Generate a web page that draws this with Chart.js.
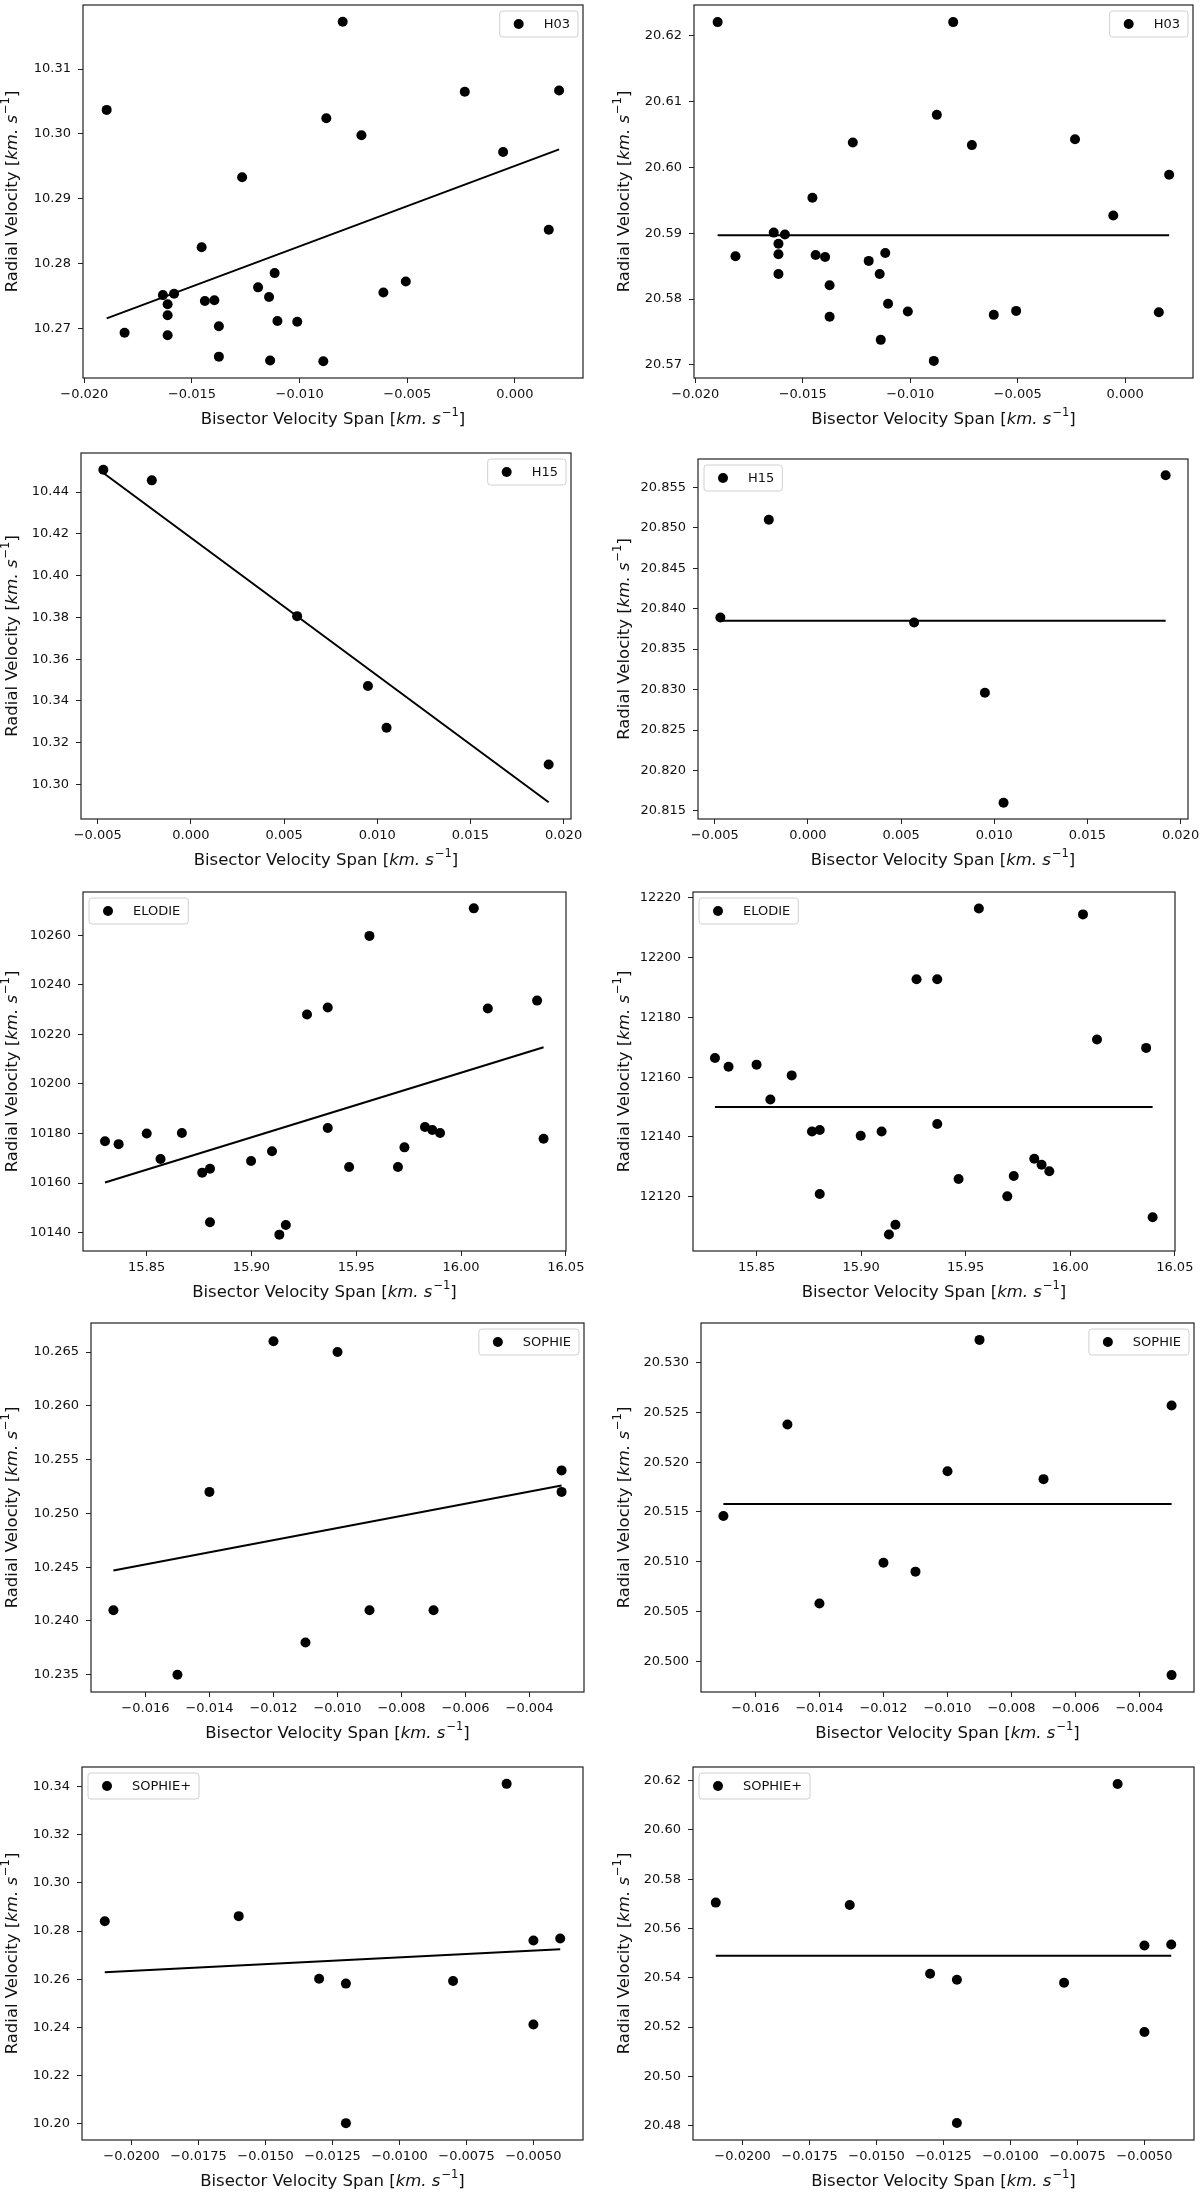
<!DOCTYPE html>
<html><head><meta charset="utf-8">
<script src="https://cdn.jsdelivr.net/npm/chart.js@4.4.1/dist/chart.umd.min.js"></script>
<style>
html,body{margin:0;padding:0;background:#fff;}
body{position:relative;width:1200px;height:2194px;overflow:hidden;}
canvas{position:absolute;}
</style></head><body>
<script>
// ---------------- DATA ----------------
// H03
const h03_bvs = [-0.01896,-0.01813,-0.01635,-0.01613,-0.01613,-0.01613,-0.01583,-0.01455,-0.01440,-0.01396,-0.01375,-0.01375,-0.01267,-0.01193,-0.01142,-0.01137,-0.01116,-0.01103,-0.01011,-0.00890,-0.00876,-0.00800,-0.00713,-0.00611,-0.00507,-0.00233,-0.00055,0.00157,0.00205];
const h03_rv_a = [10.3037,10.2693,10.2751,10.2737,10.2720,10.2689,10.2753,10.2825,10.2742,10.2743,10.2703,10.2656,10.2933,10.2763,10.2748,10.2650,10.2785,10.2711,10.2710,10.2649,10.3024,10.3173,10.2998,10.2755,10.2772,10.3065,10.2972,10.2852,10.3067];
const h03_rv_b = [20.6221,20.5865,20.5901,20.5884,20.5868,20.5838,20.5898,20.5954,20.5867,20.5864,20.5821,20.5773,20.6038,20.5858,20.5838,20.5738,20.5870,20.5793,20.5781,20.5706,20.6080,20.6221,20.6034,20.5776,20.5782,20.6043,20.5927,20.5780,20.5989];
const h03_fit_x = [-0.01896, 0.00205];
const h03_fit_a = [10.2715, 10.2976];
const h03_fit_b = [20.5897, 20.5897];
// H15
const h15_bvs = [-0.0047,-0.0021,0.0057,0.0095,0.0105,0.0192];
const h15_rv_a = [10.4507,10.4456,10.3806,10.3472,10.3272,10.3096];
const h15_rv_b = [20.8389,20.8510,20.8383,20.8296,20.8160,20.8565];
const h15_fit_x = [-0.0047, 0.0192];
const h15_fit_a = [10.4491, 10.2915];
const h15_fit_b = [20.8385, 20.8385];
// ELODIE
const elodie_bvs = [15.8301,15.8366,15.8500,15.8566,15.8668,15.8765,15.8802,15.8802,15.8998,15.9098,15.9133,15.9164,15.9265,15.9364,15.9364,15.9466,15.9563,15.9699,15.9730,15.9828,15.9863,15.9900,16.0061,16.0128,16.0363,16.0394];
const elodie_rv_a = [10176.9,10175.7,10180.0,10169.7,10180.2,10164.2,10165.8,10144.2,10168.9,10172.8,10139.2,10143.1,10228.0,10230.8,10182.2,10166.5,10259.7,10166.5,10174.4,10182.6,10181.4,10180.2,10270.8,10230.4,10233.6,10177.9];
const elodie_rv_b = [12166.4,12163.5,12164.2,12152.5,12160.6,12141.8,12142.3,12120.9,12140.4,12141.8,12107.3,12110.6,12192.8,12192.8,12144.3,12125.9,12216.5,12120.1,12126.9,12132.7,12130.7,12128.5,12214.5,12172.6,12169.8,12113.1];
const elodie_fit_x = [15.8301, 16.0394];
const elodie_fit_a = [10160.2, 10214.8];
const elodie_fit_b = [12150.0, 12150.0];
// SOPHIE
const sophie_bvs = [-0.017,-0.015,-0.014,-0.012,-0.011,-0.010,-0.009,-0.007,-0.003,-0.003];
const sophie_rv_a = [10.241,10.235,10.252,10.266,10.238,10.265,10.241,10.241,10.254,10.252];
const sophie_rv_b = [20.5146,20.5238,20.5058,20.5099,20.5090,20.5191,20.5323,20.5183,20.5257,20.4986];
const sophie_fit_x = [-0.017, -0.003];
const sophie_fit_a = [10.2447, 10.2526];
const sophie_fit_b = [20.5158, 20.5158];
// SOPHIE+
const sophiep_bvs = [-0.021,-0.016,-0.013,-0.012,-0.012,-0.008,-0.006,-0.005,-0.005,-0.004];
const sophiep_rv_a = [10.2841,10.2862,10.2602,10.2582,10.2003,10.2593,10.3411,10.2761,10.2412,10.2769];
const sophiep_rv_b = [20.5705,20.5695,20.5416,20.5392,20.4811,20.5380,20.6186,20.5531,20.5180,20.5535];
const sophiep_fit_x = [-0.021, -0.004];
const sophiep_fit_a = [10.2629, 10.2725];
const sophiep_fit_b = [20.5489, 20.5489];

// tick labels
const h03_xticks = ['-0.020','-0.015','-0.010','-0.005','0.000'];
const h03_yticks_a = ['10.27','10.28','10.29','10.30','10.31'];
const h03_yticks_b = ['20.57','20.58','20.59','20.60','20.61','20.62'];
const h15_xticks = ['-0.005','0.000','0.005','0.010','0.015','0.020'];
const h15_yticks_a = ['10.30','10.32','10.34','10.36','10.38','10.40','10.42','10.44'];
const h15_yticks_b = ['20.815','20.820','20.825','20.830','20.835','20.840','20.845','20.850','20.855'];
const elodie_xticks = ['15.85','15.90','15.95','16.00','16.05'];
const elodie_yticks_a = ['10140','10160','10180','10200','10220','10240','10260'];
const elodie_yticks_b = ['12120','12140','12160','12180','12200','12220'];
const sophie_xticks = ['-0.016','-0.014','-0.012','-0.010','-0.008','-0.006','-0.004'];
const sophie_yticks_a = ['10.235','10.240','10.245','10.250','10.255','10.260','10.265'];
const sophie_yticks_b = ['20.500','20.505','20.510','20.515','20.520','20.525','20.530'];
const sophiep_xticks = ['-0.0200','-0.0175','-0.0150','-0.0125','-0.0100','-0.0075','-0.0050'];
const sophiep_yticks_a = ['10.20','10.22','10.24','10.26','10.28','10.30','10.32','10.34'];
const sophiep_yticks_b = ['20.48','20.50','20.52','20.54','20.56','20.58','20.60','20.62'];

// axis titles (plain part, italic unit part, superscript)
const XTITLE = ['Bisector Velocity Span [', 'km. s', '\u22121', ']'];
const YTITLE = ['Radial Velocity [', 'km. s', '\u22121', ']'];

// ---------------- LAYOUT ----------------
const FONT = 'DejaVu Sans';
const TSIZE = 16.5;

const panels = [
 {name:'H03', x:h03_bvs, y:h03_rv_a, fx:h03_fit_x, fy:h03_fit_a, xt:h03_xticks, yt:h03_yticks_a, box:[83,5,583,378], col:0, xr:[-0.02006,0.00316], yr:[10.2623,10.3199], side:'right'},
 {name:'H03', x:h03_bvs, y:h03_rv_b, fx:h03_fit_x, fy:h03_fit_b, xt:h03_xticks, yt:h03_yticks_b, box:[694,5,1193,378], col:600, xr:[-0.02006,0.00316], yr:[20.5680,20.6247], side:'right'},
 {name:'H15', x:h15_bvs, y:h15_rv_a, fx:h15_fit_x, fy:h15_fit_a, xt:h15_xticks, yt:h15_yticks_a, box:[81,453,571,819], col:0, xr:[-0.0059,0.0204], yr:[10.2835,10.4587], side:'right'},
 {name:'H15', x:h15_bvs, y:h15_rv_b, fx:h15_fit_x, fy:h15_fit_b, xt:h15_xticks, yt:h15_yticks_b, box:[698,459,1188,819], col:600, xr:[-0.0059,0.0204], yr:[20.8140,20.8585], side:'left'},
 {name:'ELODIE', x:elodie_bvs, y:elodie_rv_a, fx:elodie_fit_x, fy:elodie_fit_a, xt:elodie_xticks, yt:elodie_yticks_a, box:[83,892,566,1251], col:0, xr:[15.8196,16.0501], yr:[10132.6,10277.4], side:'left'},
 {name:'ELODIE', x:elodie_bvs, y:elodie_rv_b, fx:elodie_fit_x, fy:elodie_fit_b, xt:elodie_xticks, yt:elodie_yticks_b, box:[693,892,1175,1251], col:600, xr:[15.8196,16.0501], yr:[12101.8,12222.0], side:'left'},
 {name:'SOPHIE', x:sophie_bvs, y:sophie_rv_a, fx:sophie_fit_x, fy:sophie_fit_a, xt:sophie_xticks, yt:sophie_yticks_a, box:[91,1323,584,1692], col:0, xr:[-0.0177,-0.0023], yr:[10.2334,10.2677], side:'right'},
 {name:'SOPHIE', x:sophie_bvs, y:sophie_rv_b, fx:sophie_fit_x, fy:sophie_fit_b, xt:sophie_xticks, yt:sophie_yticks_b, box:[701,1323,1194,1692], col:600, xr:[-0.0177,-0.0023], yr:[20.4969,20.5340], side:'right'},
 {name:'SOPHIE+', x:sophiep_bvs, y:sophiep_rv_a, fx:sophiep_fit_x, fy:sophiep_fit_a, xt:sophiep_xticks, yt:sophiep_yticks_a, box:[82,1767,583,2140], col:0, xr:[-0.02185,-0.00315], yr:[10.1933,10.3481], side:'left'},
 {name:'SOPHIE+', x:sophiep_bvs, y:sophiep_rv_b, fx:sophiep_fit_x, fy:sophiep_fit_b, xt:sophiep_xticks, yt:sophiep_yticks_b, box:[693,1767,1194,2140], col:600, xr:[-0.02185,-0.00315], yr:[20.4742,20.6255], side:'left'}
];

const fmt = s => s.replace('-', '\u2212');

// draw a title made of [plain, italic, superscript, plain] centred on (0,0) of current transform
function drawMixed(ctx, parts) {
  const fN = TSIZE + 'px "' + FONT + '"';
  const fI = 'italic ' + TSIZE + 'px "' + FONT + '"';
  const fS = (TSIZE * 0.7).toFixed(1) + 'px "' + FONT + '"';
  const segs = [
    {t: parts[0], f: fN, dy: 0},
    {t: parts[1], f: fI, dy: 0},
    {t: parts[2], f: fS, dy: -TSIZE * 0.42},
    {t: parts[3], f: fN, dy: 0}
  ];
  let total = 0;
  segs.forEach(s => { ctx.font = s.f; s.w = ctx.measureText(s.t).width; total += s.w; });
  segs[1].w += 1; total += 1;
  let x = -total / 2;
  ctx.fillStyle = '#111';
  ctx.textBaseline = 'middle';
  ctx.textAlign = 'left';
  segs.forEach(s => { ctx.font = s.f; ctx.fillText(s.t, x, s.dy); x += s.w; });
}

const frameLegend = {
  id: 'frameLegend',
  afterDatasetsDraw(chart, args, opts) {
    const {ctx, chartArea: a} = chart;
    ctx.save();
    ctx.strokeStyle = '#222';
    ctx.lineWidth = 1.2;
    ctx.strokeRect(a.left, a.top, a.right - a.left, a.bottom - a.top);
    // axis titles
    ctx.save();
    ctx.translate((a.left + a.right) / 2, a.bottom + 42);
    drawMixed(ctx, XTITLE);
    ctx.restore();
    ctx.save();
    ctx.translate(opts.yTitleX, (a.top + a.bottom) / 2);
    ctx.rotate(-Math.PI / 2);
    drawMixed(ctx, YTITLE);
    ctx.restore();
    // legend
    const text = chart.data.datasets[0].label;
    ctx.font = '13px "' + FONT + '"';
    const tw = ctx.measureText(text).width;
    const w = 44 + tw + 8, h = 26;
    const x = opts.side === 'right' ? a.right - 5 - w : a.left + 6;
    const y = a.top + 6;
    const r = 3;
    ctx.beginPath();
    ctx.moveTo(x + r, y);
    ctx.lineTo(x + w - r, y); ctx.quadraticCurveTo(x + w, y, x + w, y + r);
    ctx.lineTo(x + w, y + h - r); ctx.quadraticCurveTo(x + w, y + h, x + w - r, y + h);
    ctx.lineTo(x + r, y + h); ctx.quadraticCurveTo(x, y + h, x, y + h - r);
    ctx.lineTo(x, y + r); ctx.quadraticCurveTo(x, y, x + r, y);
    ctx.closePath();
    ctx.fillStyle = 'rgba(255,255,255,0.85)';
    ctx.fill();
    ctx.strokeStyle = '#d0d0d0';
    ctx.lineWidth = 1;
    ctx.stroke();
    ctx.beginPath();
    ctx.arc(x + 19, y + h / 2, 5, 0, Math.PI * 2);
    ctx.fillStyle = '#000';
    ctx.fill();
    ctx.fillStyle = '#111';
    ctx.textBaseline = 'middle';
    ctx.textAlign = 'left';
    ctx.fillText(text, x + 44, y + h / 2 + 0.5);
    ctx.restore();
  }
};

const PAD_TOP = 20, PAD_RIGHT = 30, X_H = 60;

panels.forEach(p => {
  const [L, T, R, B] = p.box;
  const cl = p.col, ct = T - PAD_TOP, cr = R + PAD_RIGHT, cb = B + X_H;
  const cv = document.createElement('canvas');
  cv.width = cr - cl; cv.height = cb - ct;
  cv.style.left = cl + 'px'; cv.style.top = ct + 'px';
  cv.style.width = (cr - cl) + 'px'; cv.style.height = (cb - ct) + 'px';
  document.body.appendChild(cv);
  const yTitleX = (p.col === 0 ? 13 : 625) - cl;
  new Chart(cv, {
    type: 'scatter',
    data: {
      datasets: [
        { label: p.name, data: p.x.map((v, i) => ({x: v, y: p.y[i]})), pointRadius: 5, pointHoverRadius: 5,
          backgroundColor: '#000', borderWidth: 0, showLine: false },
        { label: 'fit', data: p.fx.map((v, i) => ({x: v, y: p.fy[i]})), showLine: true, pointRadius: 0,
          borderColor: '#000', borderWidth: 2, fill: false }
      ]
    },
    options: {
      responsive: false, animation: false, events: [],
      layout: { padding: { left: 0, top: PAD_TOP, right: PAD_RIGHT, bottom: 0 } },
      plugins: { legend: { display: false }, tooltip: { enabled: false }, frameLegend: { side: p.side, yTitleX: yTitleX } },
      scales: {
        x: {
          type: 'linear', position: 'bottom', min: p.xr[0], max: p.xr[1],
          afterBuildTicks: s => { s.ticks = p.xt.map(t => ({ value: parseFloat(t) })); },
          afterFit: s => { s.height = X_H; },
          ticks: { autoSkip: false, maxRotation: 0, minRotation: 0, padding: 4, color: '#111',
                   font: { family: FONT, size: 13 }, callback: (v, i) => fmt(p.xt[i]) },
          grid: { display: true, drawOnChartArea: false, drawTicks: true, tickLength: 5, color: '#222', lineWidth: 1 },
          border: { display: false },
          title: { display: false }
        },
        y: {
          type: 'linear', position: 'left', min: p.yr[0], max: p.yr[1],
          afterBuildTicks: s => { s.ticks = p.yt.map(t => ({ value: parseFloat(t) })); },
          afterFit: s => { s.width = L - cl; },
          ticks: { autoSkip: false, padding: 7, color: '#111', font: { family: FONT, size: 13 },
                   callback: (v, i) => fmt(p.yt[i]) },
          grid: { display: true, drawOnChartArea: false, drawTicks: true, tickLength: 5, color: '#222', lineWidth: 1 },
          border: { display: false },
          title: { display: false }
        }
      }
    },
    plugins: [frameLegend]
  });
});
</script>
</body></html>
